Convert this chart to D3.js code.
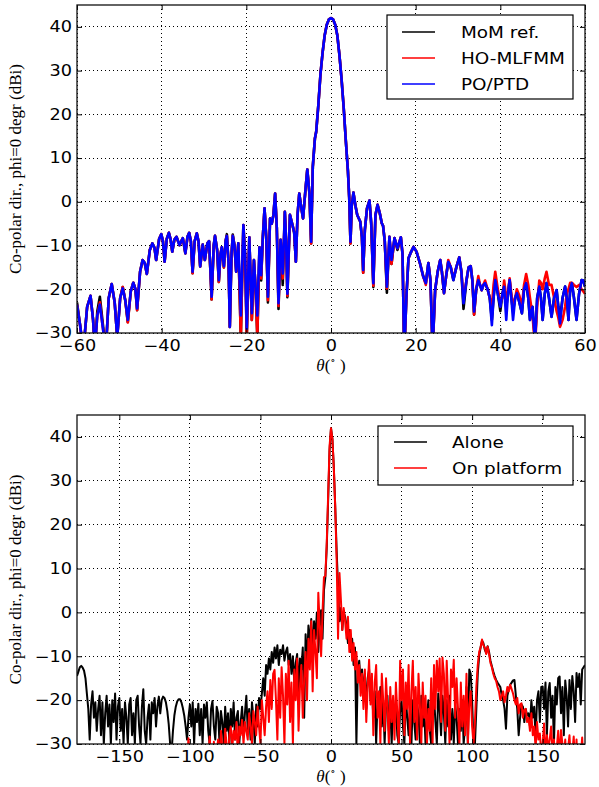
<!DOCTYPE html>
<html><head><meta charset="utf-8">
<script src="https://cdn.jsdelivr.net/npm/d3@7"></script>
<style>
html,body{margin:0;padding:0;background:#fff;}
svg{display:block;}
</style>
</head><body>
<script>
// ---------- DATA ----------
const yTicks = [-30,-20,-10,0,10,20,30,40];
const xTicksTop = [-60,-40,-20,0,20,40,60];
const xTicksBottom = [-150,-100,-50,0,50,100,150];
const legendTop = ["MoM ref.","HO-MLFMM","PO/PTD"];
const legendBottom = ["Alone","On platform"];

const thetaTop = [-60,-59.3,-58.5,-57.6,-56.8,-56.2,-55.8,-55.2,-54.6,-54.0,
-53.2,-52.5,-51.8,-51.1,-50.5,-49.8,-49.2,-48.6,-48.0,-47.3,
-46.7,-46.2,-45.8,-45.1,-44.5,-44.0,-43.5,-42.8,-42.2,-41.7,
-41.3,-40.6,-40.1,-39.7,-39.3,-38.8,-38.3,-37.9,-37.5,-37.0,
-36.5,-35.8,-35.0,-34.4,-33.9,-33.5,-33.1,-32.7,-32.2,-31.7,
-31.3,-30.9,-30.3,-29.8,-29.2,-28.8,-28.2,-27.7,-27.4,-26.9,
-26.5,-26.1,-25.8,-25.3,-24.9,-24.6,-24.2,-23.9,-23.5,-23.2,
-22.8,-22.4,-21.9,-21.3,-20.7,-20.3,-19.9,-19.3,-18.7,-18.2,
-17.8,-17.4,-16.9,-16.5,-16.1,-15.7,-15.3,-14.9,-14.4,-14.0,
-13.6,-13.2,-12.8,-12.4,-11.9,-11.4,-10.9,-10.6,-10.3,-9.7,
-9.1,-8.7,-8.3,-7.9,-7.5,-7.0,-6.6,-6.1,-5.6,-5.1,
-4.7,-4.3,-3.8,-3.5,-3.0,-2.5,-2.0,-1.5,-1.0,-0.5,
0,0.5,1.0,1.5,2.0,2.5,3.0,3.5,4.0,4.3,
4.6,4.9,5.3,5.8,6.2,6.9,7.3,7.6,8.0,8.5,
9.1,9.5,10.0,10.5,11.0,11.5,12.0,12.3,12.7,13.2,
13.8,14.3,15.0,15.7,16.5,16.9,17.3,17.8,18.3,18.9,
19.5,20.2,21.0,21.8,22.4,23.0,23.5,24.0,24.6,25.2,
25.8,26.2,26.7,27.2,27.7,28.3,28.9,29.6,30.3,30.8,
31.3,32.0,32.5,33.0,33.4,33.8,34.3,34.8,35.2,35.6,
36.0,36.4,37.0,37.5,38.0,38.4,38.8,39.4,40.0,40.5,
40.9,41.4,41.8,42.2,42.6,43.0,43.5,43.9,44.5,45.1,
45.6,46.1,46.6,47.0,47.6,48.2,48.7,49.2,49.6,50.0,
50.5,50.9,51.5,52.1,52.7,53.3,53.7,54.1,54.7,55.3,
55.7,56.1,56.5,56.9,57.4,58.0,58.6,59.2,59.6,60.0];

const momRef = [-23,-28,-34,-24,-21.5,-27,-34,-25,-21.7,-27,
-34,-22,-18.8,-23,-31,-22,-19.5,-22.5,-27.5,-20.5,
-18.5,-20,-24.8,-16,-13.3,-14,-16.5,-11,-9.5,-10.5,
-13.3,-8.5,-7.4,-9,-13.7,-8.5,-7.1,-8.5,-11.4,-8.7,
-8,-9.9,-8.3,-11.8,-8,-7.1,-9,-16.3,-9,-7.2,
-9,-14.8,-9.8,-13.3,-9.5,-9,-22.3,-10,-7.8,-11,
-18.3,-12,-10.4,-15,-9,-7.4,-14,-28.6,-12,-7.5,
-10,-16,-9.5,-31,-5.3,-12,-31,-8.1,-27,-13.3,
-20,-31,-10.4,-18,-8,-1.5,-8,-23,-3.8,-5,
-3,1.9,-6,-24.5,-8.7,-19,-2.3,-9,-21.8,-3,
-5.3,-7,-13.7,-3,1.9,-1.5,-3.8,2,7.4,2,
-9.5,8,14.5,16,22,29,34,38,40.5,41.7,
42,41.7,40.5,38,33.5,28,21.5,14,7,1,
-9.5,-1,2.1,-1,-3,-4.5,-8,-16.2,-6.4,-1.5,
0.3,-5,-19.5,-3,-0.7,-2.5,-4.9,-5.5,-9,-20.8,
-8,-14.2,-8.3,-11,-8.1,-12,-35,-22,-12.9,-11.5,
-10.3,-11.4,-14,-17.1,-18.6,-14,-18,-34,-20.2,-16,
-13.3,-16,-20.9,-17,-13.7,-15,-17.9,-15,-12.7,-16,
-24.5,-18,-15,-14.7,-18,-25.8,-20,-17.9,-19,-20.2,
-19,-18.6,-20,-22,-27,-22,-17.5,-21,-25,-21,
-19.4,-24,-21,-17.9,-22,-25,-22,-20.9,-23,-25.5,
-20,-18.6,-22,-27,-24,-32,-22,-19.4,-22,-27,
-21,-18.6,-22,-26.3,-22,-20.2,-24,-26.7,-22,-19.4,
-22,-27,-20,-18.6,-22,-27,-21,-17.9,-18,-19.4];

const hoMlfmm = [-23.5,-28,-34,-24,-21.5,-27,-34,-26,-23,-28,
-34,-22,-18.8,-23,-31,-22,-19.5,-22.5,-27.6,-20.5,
-18.5,-20,-24.8,-16,-13.3,-14,-16.5,-11,-9.5,-10.5,
-13.3,-8.5,-7.4,-9,-13.7,-8.5,-7.1,-8.5,-11.4,-8.7,
-8,-9.9,-8.3,-11.8,-8,-7.1,-9,-16.3,-9,-7.2,
-9,-14.8,-9.8,-13.3,-9.5,-9,-22.3,-10,-7.8,-11,
-18.3,-12,-10.4,-15,-9,-7.8,-14,-28.6,-12,-7.8,
-10,-16,-9.5,-31,-5.3,-12,-31,-8.1,-27,-13.3,
-20,-31,-10.4,-17.5,-8,-1.5,-8,-22.5,-3.8,-5,
-3,1.9,-6,-23.8,-8.7,-17.5,-2.3,-9,-21.5,-3,
-5.3,-7,-13.7,-3,1.9,-1.5,-3.8,2,7.4,2,
-9.5,8,14.5,16,22,29,34,38,40.5,41.7,
42,41.7,40.5,38,33.5,28,21.5,14,7,1,
-9.5,-1,2.1,-1,-3,-4.5,-8,-16.2,-6.4,-1.5,
0.3,-5,-19.2,-3,-0.7,-2.5,-4.9,-5.5,-9,-19.8,
-8,-14.2,-8.3,-10.6,-8.1,-12,-35,-22,-12.9,-11.5,
-10.3,-11.4,-14,-17.1,-19,-14,-18,-34,-20.2,-16,
-13.3,-16,-20.9,-17,-13.3,-15,-17.5,-15,-12.7,-16,
-22,-18,-15,-14.7,-18,-25.8,-20,-17,-19,-20.2,
-19,-18,-20,-22,-24,-19,-16,-20,-23,-22,
-18,-22,-21,-17.5,-21,-24,-22,-20,-21.5,-24,
-19,-16.5,-19,-22,-26,-33,-24,-18,-18.5,-20,
-17.5,-16,-19,-19,-22,-25,-26.5,-28.6,-27,-24,
-21,-20,-18.5,-18.5,-19,-19.5,-19,-20,-20.5,-21];

const poPtd = [-23.5,-28,-34,-24,-21.5,-27,-34,-26,-23.5,-28,
-34,-22,-18.8,-23,-31,-22,-19.8,-22.5,-27,-20.5,
-18.5,-20,-24.4,-16,-13.3,-14,-16.5,-11,-9.5,-10.5,
-13.3,-8.5,-7.4,-9,-13.7,-8.5,-7.1,-8.5,-11.4,-8.7,
-8,-9.9,-8.3,-11.8,-8,-7.1,-9,-16,-9,-7.2,
-9,-14.8,-9.8,-13.3,-9.5,-9,-21.7,-10,-7.8,-11,
-17.9,-12,-10.4,-14.7,-9,-7.8,-14,-28.6,-12,-7.8,
-10,-16,-9.5,-26,-5.3,-12,-29,-8.1,-25.5,-13.3,
-20,-26,-10.4,-16.8,-8,-1.5,-8,-21.7,-3.8,-5,
-3,1.9,-6,-23.2,-8.7,-16.4,-2.3,-9,-21,-3,
-5.3,-7,-13.7,-3,1.9,-1.5,-3.8,2,7.4,2,
-9.1,8,14.5,16,22,29,34,38,40.5,41.7,
42,41.7,40.5,38,33.5,28,21.5,14,7,1,
-9.1,-1,2.1,-1,-3,-4.5,-8,-15.6,-6.4,-1.5,
0.3,-5,-18.6,-3,-0.7,-2.5,-4.9,-5.5,-9,-19.4,
-8,-13.3,-8.3,-10.6,-8.1,-12,-35,-22,-12.9,-11.5,
-10.3,-11.4,-14,-17.1,-18.6,-14,-18,-34,-20.2,-16,
-13.3,-16,-20.9,-17,-13.7,-15,-17.9,-15,-12.7,-16,
-23.2,-18,-15,-14.7,-18,-25.1,-20,-17.9,-19,-20.2,
-19,-18.6,-20,-22,-28.2,-22,-17.9,-21,-24,-21,
-19.4,-27,-21,-17.9,-22,-27,-22,-20.9,-23,-25.5,
-20,-18.6,-22,-27,-24,-32,-22,-19.4,-22,-27,
-21,-18.6,-22,-26.3,-22,-20.2,-24,-27.8,-22,-19.4,
-22,-27,-20,-18.6,-22,-27,-21,-17.9,-18,-19.4];

const thetaBottom = d3.range(-180, 181, 1);

const alone = [-14.5,-13.5,-12.5,-12.2,-12.6,-13.3,-15,-18.5,-22,-29,
-21,-18,-24,-20.5,-27,-22,-19,-28,-20.5,-30,
-23,-19,-26,-21,-30,-20,-25,-18.5,-29,-21.5,
-19.5,-27,-22,-30,-20.5,-24,-30,-21,-19.5,-28,
-23,-30,-20,-19,-26,-30,-21.5,-17.5,-27,-30,
-24,-21,-29,-20.5,-23,-19.5,-26,-21.5,-19.2,-23,
-20,-19.2,-19.5,-20.5,-22.5,-25.5,-30,-32,-27,-23.5,
-21.5,-20.3,-19.8,-19.8,-20.5,-21.8,-23.5,-26,-29,-24,
-21,-26,-20.5,-30,-22,-25,-20.8,-28,-22,-30,
-21,-24,-20.5,-27,-30,-22,-20.2,-26,-29,-21.5,
-23,-30,-22.5,-25,-30,-21.5,-27,-23,-30,-22,
-26,-20.5,-29,-24,-22.5,-30,-25,-21.5,-28,-23,
-19,-27,-22,-29,-20.5,-24,-30,-21,-26,-19.5,
-22,-18.5,-15,-19,-12,-14,-10.5,-13,-9,-11.5,
-8,-10.5,-7.5,-12,-8.5,-9.5,-7.5,-11,-9,-8,
-12,-9.5,-14,-10,-16,-11.5,-9.5,-18,-10.5,-13,
-8,-24,-5,-12,-3,-8,-1.5,-10,-2,-6,
0,-9,-3,0.5,-6,5,8,15,26,37,
42,39.5,33,24,14,6,-2,1,-4,0,
-1,-3,-7,-4,-9,-6,-12,-8,-30,-13,
-11,-16,-13,-19,-14,-22,-15,-13,-20,-17,
-24,-18,-30,-20,-22,-17,-26,-20,-30,-21,
-19,-27,-22,-30,-20,-25,-21,-28,-30,-22,
-20,-26,-30,-19,-24,-28,-21,-30,-20,-25,
-29,-21,-23,-30,-19,-26,-22,-30,-24,-20,
-27,-30,-21,-19,-25,-30,-18.5,-22,-28,-19,
-23,-30,-20,-26,-19,-29,-22,-30,-21,-24,
-30,-22,-27,-20,-30,-26,-17,-30,-13,-14,
-20,-30,-30,-22,-14,-10,-8,-6.5,-7,-8.5,
-9.3,-7.7,-9,-11,-12.3,-13.5,-14.5,-15.4,-16,-16.5,
-17,-19,-20,-22,-26.5,-19,-17.5,-16.5,-16,-15.5,
-15.4,-19,-22,-28,-24,-21,-21.5,-25,-22,-23.5,
-23,-26,-20,-24,-21.5,-29,-20,-18,-25,-17,
-16.9,-22,-16,-28,-18,-16.1,-24,-19,-30,-17,
-21,-15,-14.6,-23,-17,-28,-15.5,-19,-26,-15.4,
-22,-14.5,-18,-25,-13.8,-17,-14,-21,-13,-12.5,
-12];

const onPlatform = [-38,-36,-40,-37,-35,-39,-36,-41,-38,-36,
-39,-37,-35,-40,-36,-38,-41,-37,-35,-39,
-36,-40,-38,-35,-37,-41,-36,-39,-37,-35,
-40,-38,-36,-39,-35,-37,-41,-36,-38,-40,
-37,-35,-39,-36,-40,-38,-35,-37,-41,-36,
-38,-40,-36,-35,-39,-37,-41,-36,-38,-35,
-39,-37,-36,-40,-35,-38,-36,-39,-37,-35,
-38,-36,-39,-35,-37,-40,-36,-38,-34,-28.7,
-33,-37,-31,-35,-38,-32,-36,-34,-31,-37,
-33,-36,-30.5,-34,-28.3,-33,-35,-29.5,-36,-32,
-29,-34,-27,-31,-35,-26.5,-30,-33,-28,-26,
-31,-27,-29,-25,-33,-26,-28,-24.5,-30,-25,
-27,-29,-23,-26,-30,-22.5,-25,-28,-21.5,-26,
-30,-20,-24,-28,-21.5,-18,-25,-15.4,-22,-14,
-13.1,-20,-29,-15,-24,-12.5,-19,-30,-14,-21,
-11,-25,-16,-30,-13,-20,-10.5,-27,-17,-12,
-24,-15,-9,-20,-6,-13,-2,-18,-4,-9,
-15,4.5,-3,-10,0,8,8.3,16,27,38,
42,39.5,33,24,12,-6,9,3,-4,1,
-2,-6,-1,-9,-4,-11,-7,-13,-9,-16,
-12,-19,-14,-22,-13,-25,-17,-10.8,-21,-14,
-28,-16,-12,-24,-18,-30,-14,-20,-27,-15,
-22,-30,-17,-25,-19,-29,-16,-23,-30,-11,
-20,-13,-28,-16,-22,-12,-30,-18,-11,-25,
-17,-29,-14,-21,-30,-16,-24,-19,-30,-22,
-27,-15,-30,-12,-22,-11,-18,-10.5,-25,-10.3,
-14,-27,-11,-20,-30,-13,-17,-10.8,-24,-15,
-22,-30,-16,-26,-19,-28,-14,-30,-21,-18,
-26,-30,-25,-17,-12,-9,-8,-6.2,-7.5,-8,
-9.5,-7.8,-9.5,-11.5,-12.5,-14,-15,-15.6,-17,-18,
-20,-19,-18,-20.5,-19,-17,-18,-16.5,-17.5,-18.5,
-20,-21,-19.5,-23,-21,-20.7,-24,-22.2,-22,-25,
-24,-27,-23,-28,-26,-31,-25,-29,-27.6,-32,
-30,-25.3,-33,-28,-31,-29,-26,-32,-29,-35,
-31,-27,-34,-26.8,-30,-33,-29,-36,-31,-28,
-34,-32,-28.3,-35,-29,-37,-31,-33,-28.5,-36,
-30];

// ---------- DRAW ----------
const W = 599, H = 787;
const svg = d3.select("body").append("svg").attr("width", W).attr("height", H);
svg.append("rect").attr("width", W).attr("height", H).attr("fill", "#fff");

const TICKFONT = "'DejaVu Sans', sans-serif";
const SX = 1.18;

function panel(cfg) {
  const {left, right, top, bottom, xDomain, xTicks, series, legend, id} = cfg;
  const x = d3.scaleLinear().domain(xDomain).range([left, right]);
  const y = d3.scaleLinear().domain([-30, 45]).range([bottom, top]);
  const g = svg.append("g");

  g.append("clipPath").attr("id", id).append("rect")
    .attr("x", left).attr("y", top).attr("width", right - left).attr("height", bottom - top);

  // grid
  const grid = g.append("g").attr("stroke", "#000").attr("stroke-width", 1)
    .attr("stroke-dasharray", "1,3").attr("shape-rendering", "crispEdges");
  xTicks.forEach(t => grid.append("line").attr("x1", x(t)).attr("x2", x(t)).attr("y1", top).attr("y2", bottom));
  yTicks.forEach(t => grid.append("line").attr("x1", left).attr("x2", right).attr("y1", y(t)).attr("y2", y(t)));

  // series
  const plot = g.append("g").attr("clip-path", `url(#${id})`);
  series.forEach(s => {
    const line = d3.line().x((d, i) => x(s.theta[i])).y(d => y(d));
    plot.append("path").datum(s.values).attr("d", line)
      .attr("fill", "none").attr("stroke", s.color).attr("stroke-width", s.width)
      .attr("stroke-linejoin", "round");
  });

  // axes (inward ticks on all sides)
  const fmt = d3.format("d");
  const ax = g.append("g").attr("transform", `translate(0,${bottom})`)
    .call(d3.axisBottom(x).tickValues(xTicks).tickSize(-5).tickPadding(7).tickFormat(fmt));
  const axT = g.append("g").attr("transform", `translate(0,${top})`)
    .call(d3.axisTop(x).tickValues(xTicks).tickSize(-5).tickFormat(""));
  const ay = g.append("g").attr("transform", `translate(${left},0)`)
    .call(d3.axisLeft(y).tickValues(yTicks).tickSize(-5).tickPadding(5).tickFormat(fmt));
  const ayR = g.append("g").attr("transform", `translate(${right},0)`)
    .call(d3.axisRight(y).tickValues(yTicks).tickSize(-5).tickFormat(""));
  [ax, axT, ay, ayR].forEach(a => {
    a.select(".domain").remove();
    a.selectAll("line").attr("stroke", "#000").attr("stroke-width", 1);
  });
  [ax, ay].forEach(a => a.selectAll("text")
    .attr("font-family", TICKFONT).attr("font-size", 15).attr("fill", "#000"));
  ax.selectAll("text").attr("dy", "0.71em").attr("transform", `scale(${SX},1)`);
  ay.selectAll("text").each(function() {
    const t = d3.select(this);
    const xx = +t.attr("x");
    t.attr("x", null).attr("transform", `translate(${xx},0) scale(${SX},1)`);
  });

  // frame
  g.append("rect").attr("x", left).attr("y", top).attr("width", right - left).attr("height", bottom - top)
    .attr("fill", "none").attr("stroke", "#111").attr("stroke-width", 1.3);

  // y label
  g.append("text")
    .attr("transform", `translate(21,${(top + bottom) / 2}) rotate(-90)`)
    .attr("text-anchor", "middle")
    .attr("font-family", "'Liberation Serif', 'Times New Roman', serif")
    .attr("font-size", 17).attr("fill", "#000")
    .text("Co-polar dir., phi=0 degr (dBi)");

  // x label  θ(°)
  const xl = g.append("text")
    .attr("x", (left + right) / 2).attr("y", bottom + 38)
    .attr("text-anchor", "middle")
    .attr("font-family", "'Liberation Serif', 'DejaVu Serif', serif")
    .attr("font-size", 17).attr("fill", "#000");
  xl.append("tspan").attr("font-style", "italic").text("θ");
  xl.append("tspan").text("(");
  xl.append("tspan").attr("font-size", 11).attr("dy", -7).text("∘");
  xl.append("tspan").attr("dy", 7).text(" )");

  // legend
  const L = legend;
  const lg = g.append("g");
  lg.append("rect").attr("x", L.x).attr("y", L.y).attr("width", L.w).attr("height", L.h)
    .attr("fill", "#fff").attr("stroke", "#000").attr("stroke-width", 1.2);
  L.items.forEach((it, i) => {
    const cy = L.firstY + i * L.step;
    lg.append("line").attr("x1", L.lineX).attr("x2", L.lineX + 33).attr("y1", cy).attr("y2", cy)
      .attr("stroke", it.color).attr("stroke-width", 1.5);
    lg.append("text").attr("transform", `translate(${L.textX},${cy + 6}) scale(1.15,1)`)
      .attr("font-family", TICKFONT).attr("font-size", 16).attr("fill", "#000").text(it.label);
  });
}

panel({
  id: "clipTop", left: 77, right: 585, top: 5, bottom: 333,
  xDomain: [-60, 60], xTicks: xTicksTop,
  series: [
    {theta: thetaTop, values: momRef, color: "#000", width: 2.6},
    {theta: thetaTop, values: hoMlfmm, color: "#ff0000", width: 2.6},
    {theta: thetaTop, values: poPtd, color: "#0000ff", width: 2.6}
  ],
  legend: {x: 387, y: 15, w: 186, h: 84, lineX: 402, textX: 461, firstY: 32, step: 26,
    items: [{label: legendTop[0], color: "#000"}, {label: legendTop[1], color: "#ff0000"}, {label: legendTop[2], color: "#0000ff"}]}
});

panel({
  id: "clipBottom", left: 77, right: 585, top: 415, bottom: 744,
  xDomain: [-180, 180], xTicks: xTicksBottom,
  series: [
    {theta: thetaBottom, values: alone, color: "#000", width: 2},
    {theta: thetaBottom, values: onPlatform, color: "#ff0000", width: 2}
  ],
  legend: {x: 378, y: 426, w: 195, h: 59, lineX: 394, textX: 452, firstY: 442, step: 26,
    items: [{label: legendBottom[0], color: "#000"}, {label: legendBottom[1], color: "#ff0000"}]}
});
</script>
</body></html>
